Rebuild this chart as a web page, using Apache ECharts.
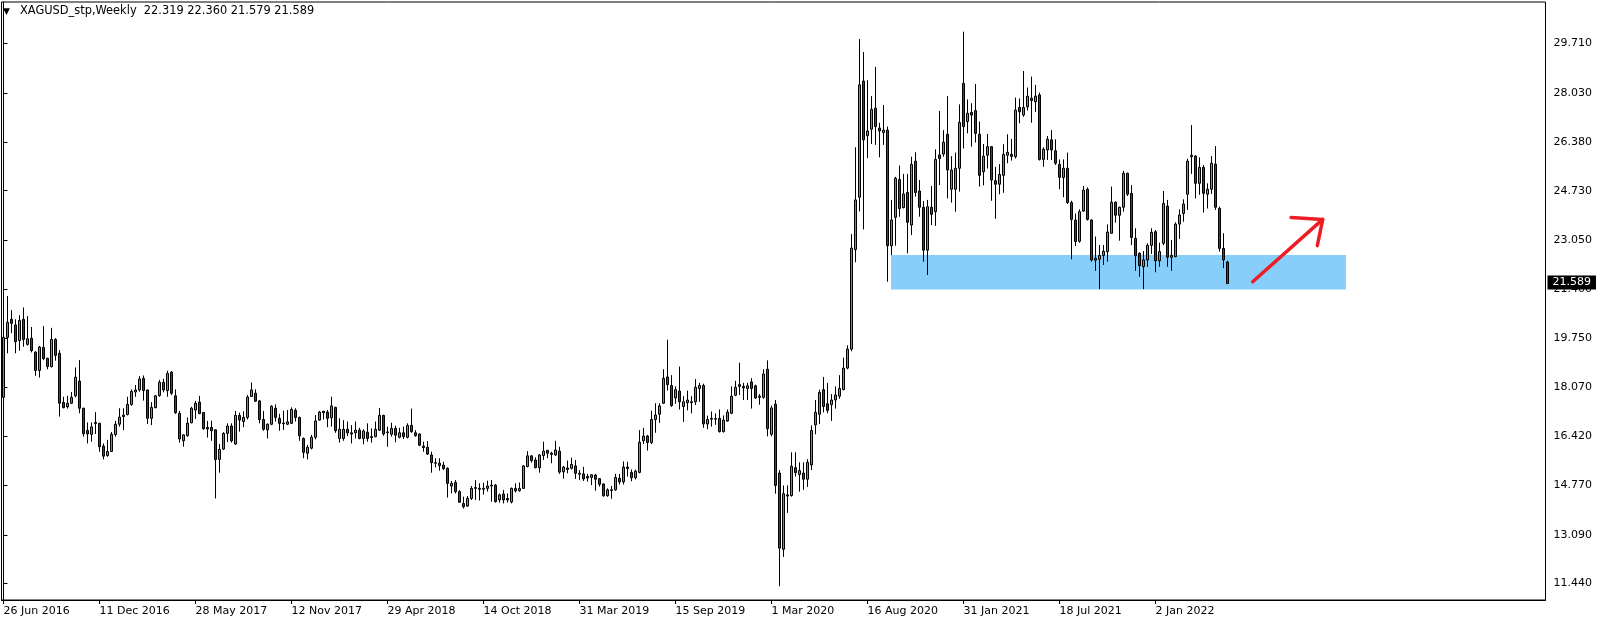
<!DOCTYPE html>
<html><head><meta charset="utf-8">
<script src="https://cdn.jsdelivr.net/npm/echarts@6/dist/echarts.min.js"></script>
<style>html,body{margin:0;padding:0;background:#fff}#c{width:1604px;height:625px}</style>
</head><body><div id="c"></div>
<script>
// ---- data ----
const headerText = 'XAGUSD_stp,Weekly  22.319 22.360 21.579 21.589';
const firstWeek = '2016-06-26';
const weekCount = 386;
const xTickLabels = ['26 Jun 2016','11 Dec 2016','28 May 2017','12 Nov 2017','29 Apr 2018','14 Oct 2018','31 Mar 2019','15 Sep 2019','1 Mar 2020','16 Aug 2020','31 Jan 2021','18 Jul 2021','2 Jan 2022'];
const yTickValues = [29.71, 28.03, 26.38, 24.73, 23.05, 21.40, 19.75, 18.07, 16.42, 14.77, 13.09, 11.44];
const lastPrice = 21.589;
const zoneWeeks = [221.9, 335.6];
const zonePrices = [22.555, 21.388];
const arrowShaft = [[312.3, 21.65], [329.8, 23.76]];
const arrowHead = [[321.9, 23.82], [329.8, 23.76], [328.45, 22.87]];
// [open, close, low, high]
const bars2016 = [
[17.74,19.77,17.54,19.91],[19.77,20.28,19.23,21.17],[20.38,20.24,19.91,20.69],[20.19,19.62,19.23,20.38],[19.66,20.34,19.32,20.52],[20.38,19.70,19.45,20.78],[19.53,19.72,19.49,20.49],[19.74,19.32,19.26,20.12],[19.27,18.65,18.47,19.30],[18.65,19.44,18.41,19.48],
[19.43,19.05,19.00,20.15],[19.06,18.78,18.69,19.08],[18.78,19.70,18.75,20.09],[19.70,19.16,18.98,19.74],[19.23,17.54,17.09,19.34],[17.57,17.39,17.37,17.76],[17.42,17.54,17.36,17.79],[17.54,17.74,17.51,17.92],[17.79,18.42,17.74,18.75],[18.29,17.37,17.20,19.00],
[17.37,16.51,16.41,17.39],[16.62,16.50,16.18,16.89],[16.49,16.74,16.24,16.89],[16.85,16.89,16.50,17.24],[16.86,16.07,15.90,16.88],[16.09,15.75,15.64,16.18],[15.77,15.91,15.73,16.30],[15.91,16.49,15.89,16.57],[16.48,16.83,16.41,16.94],[16.83,17.07,16.75,17.37],
[17.09,17.14,16.63,17.37],[17.16,17.50,17.13,17.76],[17.50,17.94,17.45,18.01],[17.92,17.99,17.76,18.16],[17.99,18.36,17.93,18.46],[18.38,17.97,17.63,18.48],[17.99,17.03,16.84,18.00],[17.03,17.40,16.80,17.58],[17.39,17.79,17.37,17.82],[17.80,18.25,17.76,18.33],
[18.25,17.99,17.91,18.37],[17.97,18.55,17.76,18.64]
];
const bars2017 = [
[18.59,17.88,17.82,18.63],[17.79,17.22,17.18,18.01],[17.20,16.33,16.21,17.28],[16.27,16.47,16.07,16.49],[16.44,16.87,16.41,17.06],[16.88,17.37,16.86,17.42],[17.31,17.54,17.01,17.62],[17.58,17.19,17.17,17.79],[17.23,16.68,16.64,17.24],[16.72,16.67,16.38,16.94],
[16.72,16.61,16.27,16.95],[16.64,15.64,14.32,16.66],[15.64,15.98,15.19,16.16],[15.99,16.52,15.96,16.56],[16.52,16.77,16.23,16.86],[16.77,16.27,16.21,16.86],[16.16,17.13,16.13,17.28],[17.13,16.97,16.58,17.22],[16.92,17.06,16.73,17.27],[17.06,17.75,16.99,17.82],
[17.77,17.99,17.76,18.24],[17.88,17.61,17.58,18.01],[17.62,16.99,16.86,17.65],[16.99,16.66,16.61,17.28],[16.64,16.83,16.35,16.86],[16.83,17.44,16.80,17.47],[17.37,17.06,16.92,17.50],[17.03,16.86,16.61,17.18],[16.87,16.85,16.64,17.29],[16.83,16.91,16.80,17.31],
[16.86,17.33,16.84,17.40],[17.30,17.06,16.92,17.37],[17.06,16.44,16.27,17.09],[16.35,15.88,15.68,16.38],[15.85,16.05,15.64,16.13],[16.02,16.39,15.98,16.47],[16.39,16.94,16.32,17.14],[16.97,17.24,16.95,17.28],[17.27,17.22,16.99,17.28],[17.24,17.03,16.73,17.31],
[17.05,17.45,16.75,17.76],[17.40,16.61,16.54,17.42]
];
const bars2018 = [
[16.35,16.66,16.21,17.03],[16.35,16.66,16.27,16.97],[16.66,16.54,16.43,16.92],[16.54,16.50,16.18,16.80],[16.54,16.63,16.35,16.92],[16.63,16.35,16.32,16.71],[16.35,16.60,16.15,16.66],[16.56,16.35,16.24,16.86],[16.41,16.38,16.21,16.69],[16.41,16.66,16.39,16.92],
[16.63,17.13,16.60,17.38],[17.13,16.50,16.44,17.15],[16.55,16.57,16.07,16.75],[16.49,16.69,16.41,16.88],[16.69,16.46,16.22,16.78],[16.39,16.54,16.35,16.71],[16.54,16.41,16.33,16.75],[16.39,16.79,16.35,16.86],[16.79,16.58,16.54,17.36],[16.54,16.44,16.41,16.63],
[16.50,16.12,16.09,16.52],[16.09,16.04,15.90,16.24],[16.05,15.82,15.79,16.26],[15.79,15.53,15.19,15.90],[15.53,15.51,15.37,15.68],[15.51,15.43,15.26,15.68],[15.45,15.33,15.28,15.56],[15.34,14.83,14.35,15.37],[14.74,14.83,14.49,14.91],[14.86,14.55,14.49,14.94],
[14.55,14.19,14.18,14.60],[14.15,14.04,13.98,14.38],[14.06,14.32,14.04,14.40],[14.32,14.66,14.27,14.74],[14.66,14.69,14.27,14.94],[14.66,14.63,14.25,14.83],[14.63,14.66,14.45,14.85],[14.66,14.74,14.55,14.92],[14.74,14.77,14.21,14.94],[14.77,14.21,14.18,14.81]
];
const bars2019 = [
[14.27,14.44,14.18,14.49],[14.47,14.27,14.15,14.61],[14.32,14.27,14.18,14.49],[14.20,14.66,14.15,14.69],[14.66,14.58,14.52,14.83],[14.58,14.66,14.55,14.86],[14.66,15.42,14.64,15.45],[15.40,15.76,15.37,15.92],[15.76,15.60,15.53,15.78],[15.62,15.36,15.34,15.71],
[15.36,15.79,15.19,15.82],[15.77,15.92,15.62,16.24],[15.95,15.85,15.68,15.95],[15.85,15.81,15.51,15.90],[15.79,15.96,15.76,16.27],[15.92,15.21,15.15,16.07],[15.22,15.38,14.99,15.42],[15.35,15.30,15.17,15.60],[15.34,15.47,15.30,15.70],[15.42,15.17,14.98,15.62],
[15.17,15.14,14.94,15.28],[15.15,14.98,14.91,15.39],[15.06,15.01,14.89,15.15],[15.03,15.12,14.77,15.14],[15.11,14.97,14.58,15.15],[14.99,14.80,14.72,15.01],[14.81,14.41,14.38,14.83],[14.41,14.61,14.38,14.66],[14.61,14.59,14.31,14.74],[14.61,15.03,14.58,15.15],
[15.00,14.88,14.79,15.15],[14.88,15.38,14.79,15.57],[15.38,15.33,15.06,15.56],[15.20,15.02,14.90,15.30],[15.02,15.24,14.96,15.30],[15.20,16.22,15.17,16.63],[16.27,16.43,16.16,16.71],[16.43,16.21,15.94,16.47],[16.21,16.99,16.16,17.29],[16.99,17.14,16.54,17.54],
[17.17,17.45,16.88,17.54],[17.54,18.38,17.52,18.69]
];
const bars2020 = [
[18.43,18.17,17.97,19.69],[18.14,17.46,17.42,18.49],[17.72,18.00,17.52,18.11],[17.95,17.59,17.33,18.78],[17.43,17.59,16.91,17.78],[17.56,17.65,17.30,17.97],[17.59,17.56,17.20,17.78],[17.59,18.08,17.48,18.36],[18.04,18.14,17.59,18.23],[18.14,16.84,16.71,18.20],
[16.84,16.99,16.66,17.12],[17.03,17.00,16.75,17.26],[17.00,17.02,16.81,17.20],[17.03,16.58,16.55,17.33],[16.58,16.97,16.55,17.13],[16.94,17.24,16.91,17.33],[17.20,17.78,17.17,18.11],[17.81,18.08,17.78,18.30],[18.17,18.11,17.82,18.91],[18.11,18.06,17.65,18.23],
[18.04,18.13,17.65,18.23],[18.26,18.04,17.36,18.39],[18.13,17.72,17.69,18.17],[17.78,17.74,17.49,17.85],[17.74,18.53,17.69,18.69],[18.69,16.68,16.42,18.99],[16.49,17.38,16.42,17.46],[17.51,14.76,14.48,17.65],[15.18,12.64,11.35,15.28],[12.60,14.48,12.34,14.76],
[14.44,14.40,13.83,14.76],[14.42,15.41,14.38,15.88],[15.36,15.19,15.06,15.88],[15.13,15.26,14.55,15.54],[15.18,14.97,14.61,15.54],[14.97,15.54,14.71,15.65],[15.45,16.62,15.28,16.79],[16.81,17.23,16.49,17.65],[17.17,17.91,16.84,18.00],[18.00,17.43,17.23,18.43],
[17.52,17.30,17.20,18.23],[17.49,17.65,16.94,17.85],[17.65,17.82,17.36,18.11],[17.78,18.04,17.69,18.49],[18.00,18.73,17.98,19.08],[18.73,19.37,18.69,19.50],[19.37,22.79,19.30,23.26],[22.74,24.42,22.31,26.20],[24.51,28.31,24.03,29.86]
];
const bars2021 = [
[28.44,26.45,23.42,29.42],[26.59,26.75,25.83,28.47],[26.81,27.48,26.31,27.93],[27.52,26.90,26.28,28.92],[26.85,26.75,25.86,27.03],[26.70,26.78,26.28,27.63],[26.78,22.87,21.65,26.90],[22.87,23.74,22.55,24.42],[23.83,25.15,22.87,25.20],[25.11,24.13,23.85,25.58],
[24.16,24.62,24.13,25.30],[24.67,23.66,22.61,25.30],[23.57,25.62,23.23,25.88],[25.73,24.67,24.53,26.03],[24.72,24.17,23.85,25.09],[24.17,22.72,22.33,24.38],[22.72,24.19,21.88,24.42],[24.17,23.93,23.57,24.89],[24.02,25.79,23.54,26.13],[25.94,25.82,24.92,27.43],
[25.97,26.37,25.88,26.78],[26.64,25.43,24.47,27.93],[24.78,25.43,24.33,25.90],[24.78,25.49,24.02,26.02],[25.49,27.04,24.70,27.65],[28.36,26.90,26.16,30.11],[27.07,27.35,26.67,27.82],[27.38,27.29,26.22,27.69],[27.44,26.67,26.36,28.34],[26.64,25.25,24.87,27.07],
[25.37,25.90,24.91,26.31],[25.93,26.22,25.48,26.65],[26.22,25.09,24.39,26.24],[25.07,24.95,23.78,25.54],[24.95,25.28,24.61,25.63],[25.25,25.96,24.66,26.30],[25.93,26.03,25.66,26.64],[25.96,25.89,25.75,26.48],[25.88,27.46,25.82,27.88],[27.55,27.40,27.01,27.85],
[27.29,27.55,27.23,28.78]
];
const bars2022 = [
[27.57,27.93,27.44,28.22],[27.86,27.78,27.03,28.59],[27.74,27.93,27.40,28.31],[27.97,25.79,25.75,28.05],[25.79,26.13,25.54,26.20],[26.11,26.47,25.77,26.58],[26.45,26.11,25.77,26.78],[26.08,25.66,25.60,26.47],[25.62,25.18,24.78,25.79],[25.18,25.49,24.51,25.79],
[25.49,24.33,24.28,26.02],[24.33,23.76,22.41,24.39],[23.74,23.01,22.86,23.96],[23.02,24.02,22.97,24.10],[24.04,24.75,24.01,24.89],[24.78,23.76,23.72,24.84],[23.74,22.39,22.33,23.76],[22.38,22.44,22.02,23.18],[22.41,22.54,21.40,22.89],[22.54,22.68,22.22,22.89],
[22.67,23.33,22.33,23.59],[23.29,24.34,23.27,24.87],[24.34,23.90,23.65,24.37],[23.90,24.17,23.04,24.19],[24.17,25.32,24.02,25.40],[25.32,24.61,24.55,25.34],[24.64,23.15,22.89,24.92],[23.12,22.53,22.02,23.46],[22.61,22.20,21.82,22.65],[22.16,22.39,21.40,22.69],
[22.39,22.88,22.16,22.95],[22.88,23.32,22.59,23.46],[23.34,22.36,21.97,23.40],[22.36,22.67,22.16,22.97],[22.95,24.30,22.89,24.72],[24.21,22.48,22.16,24.42],[22.48,22.54,22.02,23.06],[22.50,23.60,22.48,23.66],[23.60,23.91,23.10,24.10],[23.96,24.28,23.68,24.44],
[24.61,25.73,24.08,25.81],[25.88,25.93,25.30,26.95],[25.90,24.98,24.47,25.94],[24.98,25.52,24.59,25.86],[25.52,24.64,23.99,25.60],[24.61,24.78,24.13,24.98],[24.78,25.66,24.62,25.90],[25.63,24.17,24.08,26.24],[24.13,22.78,22.67,24.19],[22.78,22.39,22.11,23.29],
[22.319,21.589,21.579,22.360]
];

// ---- build ----
const MONTHS = ['Jan','Feb','Mar','Apr','May','Jun','Jul','Aug','Sep','Oct','Nov','Dec'];
const t0 = Date.parse(firstWeek + 'T00:00:00Z');
const categories = [];
for (let i = 0; i < weekCount; i++) {
  const d = new Date(t0 + i * 7 * 86400000);
  categories.push(d.getUTCDate() + ' ' + MONTHS[d.getUTCMonth()] + ' ' + d.getUTCFullYear());
}
const candles = [].concat(bars2016, bars2017, bars2018, bars2019, bars2020, bars2021, bars2022);
const labelStep = 24;
const showTick = (i) => i % labelStep === 0 && i < candles.length;

const FONT = 'DejaVu Sans';
const chart = echarts.init(document.getElementById('c'), null, {renderer: 'canvas'});
chart.setOption({
  animation: false,
  backgroundColor: '#ffffff',
  grid: {left: 1.5, top: 2, width: 4 * weekCount, height: 598, show: true, borderColor: '#000', borderWidth: 1, containLabel: false},
  graphic: [
    {type: 'text', left: 3, top: 7, style: {text: '▼', font: '9px "DejaVu Sans"', fill: '#000'}},
    {type: 'text', left: 20, top: 6, style: {text: headerText, font: '11.4px "DejaVu Sans"', fill: '#000'}}
  ],
  xAxis: [
    {type: 'category', data: categories, boundaryGap: true, position: 'bottom',
     axisLine: {show: true, lineStyle: {color: '#000', width: 1}},
     axisTick: {show: true, length: 4, alignWithLabel: true, interval: (i) => showTick(i), lineStyle: {color: '#000'}},
     axisLabel: {show: true, interval: (i) => showTick(i), formatter: (v, i) => xTickLabels[i / labelStep], align: 'left', margin: 6,
                 fontFamily: FONT, fontSize: 11, color: '#000'},
     splitLine: {show: false}},
    {type: 'value', show: false, min: -0.5, max: weekCount - 0.5}
  ],
  yAxis: [{type: 'value', position: 'right', min: 10.884, max: 31.114,
    axisLine: {show: true, lineStyle: {color: '#000'}},
    axisTick: {show: true, length: 4, customValues: yTickValues, lineStyle: {color: '#000'}},
    axisLabel: {customValues: yTickValues, formatter: (v) => v.toFixed(3), margin: 8, fontFamily: FONT, fontSize: 11, color: '#000'},
    splitLine: {show: false}}],
  series: [
    {type: 'line', xAxisIndex: 1, yAxisIndex: 0, data: [], z: 1, silent: true,
     markArea: {silent: true, itemStyle: {color: '#87cefa', opacity: 1},
       data: [[{coord: [zoneWeeks[0], zonePrices[0]]}, {coord: [zoneWeeks[1], zonePrices[1]]}]]}},
    {type: 'candlestick', xAxisIndex: 0, yAxisIndex: 0, data: candles, barWidth: 3, z: 3,
     itemStyle: {color: '#00e400', color0: '#e40000', borderColor: '#000', borderColor0: '#000', borderColorDoji: '#000', borderWidth: 1}},
    {type: 'line', xAxisIndex: 1, yAxisIndex: 0, data: [[-0.5, lastPrice], [weekCount - 0.5, lastPrice]], symbol: 'none', z: 6, silent: true,
     lineStyle: {color: 'rgba(0,0,0,0)', width: 0},
     endLabel: {show: true, formatter: () => lastPrice.toFixed(3), color: '#fff', backgroundColor: '#000',
                fontFamily: FONT, fontSize: 11, lineHeight: 12, padding: [1, 5, 1, 5], distance: 2, offset: [0, -1]}},
    {type: 'line', xAxisIndex: 1, yAxisIndex: 0, data: arrowShaft, symbol: 'none', z: 4, silent: true,
     lineStyle: {color: '#ee1c24', width: 3.5, cap: 'round'}},
    {type: 'line', xAxisIndex: 1, yAxisIndex: 0, data: arrowHead, symbol: 'none', z: 4, silent: true,
     lineStyle: {color: '#ee1c24', width: 3.5, cap: 'round', join: 'round'}}
  ]
});
</script></body></html>
